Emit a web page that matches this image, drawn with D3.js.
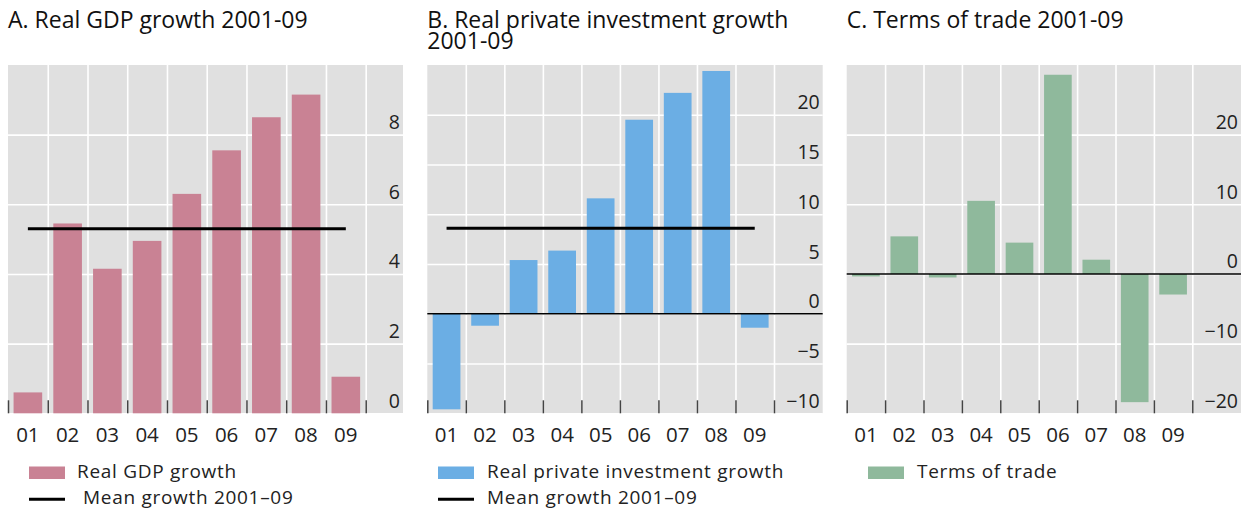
<!DOCTYPE html>
<html>
<head>
<meta charset="utf-8">
<script src="https://cdn.jsdelivr.net/npm/d3@7"></script>
<style>
  html, body { margin: 0; padding: 0; background: #ffffff; }
  #wrap { position: relative; width: 1250px; height: 510px; }
  svg { display: block; font-family: "Open Sans", "Noto Sans", sans-serif; }
  .title {
    position: absolute; margin: 0; white-space: nowrap;
    font-family: "Open Sans", "Noto Sans", sans-serif;
    font-size: 23px; line-height: 21px; color: #111;
  }
</style>
</head>
<body>
<div id="wrap">
<svg id="chart" width="1250" height="510"></svg>
</div>
<script>
// Years 2001–09, shown as two-digit labels
const years = ["01", "02", "03", "04", "05", "06", "07", "08", "09"];

// Panel A: real GDP growth, per cent
const gdpGrowth = [0.6, 5.45, 4.15, 4.95, 6.3, 7.55, 8.5, 9.15, 1.05];
const gdpMean = 5.3;
const gdpTicks = [0, 2, 4, 6, 8];

// Panel B: real private investment growth, per cent
const investGrowth = [-9.6, -1.2, 5.4, 6.35, 11.6, 19.5, 22.2, 24.4, -1.4];
const investMean = 8.6;
const investTicks = [-10, -5, 0, 5, 10, 15, 20];

// Panel C: terms of trade, per cent change
const termsOfTrade = [-0.35, 5.4, -0.5, 10.5, 4.5, 28.6, 2.05, -18.4, -2.95];
const totTicks = [-20, -10, 0, 10, 20];

const svg = d3.select("#chart");
const wrap = d3.select("#wrap");

const panels = [
  {
    title: ["A. Real GDP growth 2001-09"],
    values: gdpGrowth, mean: gdpMean, domain: [0, 10], ticks: gdpTicks,
    color: "#c98294", x0: 8, x1: 403, xEnd: 365.7, zeroLine: false,
    legend: { x: 29, textX: 77, lineTextX: 83, label: "Real GDP growth", meanLabel: "Mean growth 2001–09" }
  },
  {
    title: ["B. Real private investment growth", "2001-09"],
    values: investGrowth, mean: investMean, domain: [-10, 25], ticks: investTicks,
    color: "#6baee4", x0: 427.3, x1: 822.7, xEnd: 774, zeroLine: true,
    legend: { x: 438, textX: 487, lineTextX: 487, label: "Real private investment growth", meanLabel: "Mean growth 2001–09" }
  },
  {
    title: ["C. Terms of trade 2001-09"],
    values: termsOfTrade, mean: null, domain: [-20, 30], ticks: totTicks,
    color: "#8fb99c", x0: 846.7, x1: 1241, xEnd: 1192.3, zeroLine: true,
    legend: { x: 868, textX: 917, label: "Terms of trade" }
  }
];

const yTop = 65, yBottom = 413.3;

panels.forEach(p => {
  const g = svg.append("g");

  // Title block (wraps onto a second line with tight leading)
  const t = wrap.append("div").attr("class", "title")
    .style("left", p.x0 + "px").style("top", "9px");
  p.title.forEach((line, i) => {
    if (i > 0) t.append("br");
    t.append("span").text(line);
  });

  const y = d3.scaleLinear().domain(p.domain).range([yBottom, yTop]);
  const cell = d3.scaleBand().domain(years).range([p.x0, p.xEnd]).padding(0);
  const bar = d3.scaleBand().domain(years).range([p.x0, p.xEnd])
    .paddingInner(0.28).paddingOuter(0.14);
  const boundary = d3.scaleLinear().domain([0, years.length]).range([p.x0, p.xEnd]);

  // Plot background
  g.append("rect")
    .attr("x", p.x0).attr("y", yTop)
    .attr("width", p.x1 - p.x0).attr("height", yBottom - yTop)
    .attr("fill", "#e0e0e0");

  // Horizontal gridlines
  const hGrid = g.append("g")
    .attr("transform", `translate(${p.x0},0)`)
    .call(d3.axisRight(y).tickValues(p.ticks).tickSize(p.x1 - p.x0).tickFormat(""));
  hGrid.select(".domain").remove();
  hGrid.selectAll("line").attr("stroke", "#ffffff").attr("stroke-width", 1.6);

  // Vertical gridlines between years
  const vGrid = g.append("g")
    .attr("transform", `translate(0,${yBottom})`)
    .call(d3.axisBottom(boundary).tickValues(d3.range(1, years.length + 1))
      .tickSize(-(yBottom - yTop)).tickFormat(""));
  vGrid.select(".domain").remove();
  vGrid.selectAll("line").attr("stroke", "#ffffff").attr("stroke-width", 1.6);

  // Bars
  g.append("g").selectAll("rect")
    .data(p.values)
    .join("rect")
    .attr("x", (d, i) => bar(years[i]))
    .attr("width", bar.bandwidth())
    .attr("y", d => y(Math.max(0, d)))
    .attr("height", d => Math.abs(y(d) - y(0)))
    .attr("fill", p.color);

  // Zero line
  if (p.zeroLine) {
    g.append("line")
      .attr("x1", p.x0).attr("x2", p.x1)
      .attr("y1", y(0)).attr("y2", y(0))
      .attr("stroke", "#000").attr("stroke-width", 1.5);
  }

  // Mean line spanning first to last year
  if (p.mean !== null) {
    g.append("line")
      .attr("x1", cell(years[0]) + cell.bandwidth() / 2)
      .attr("x2", cell(years[years.length - 1]) + cell.bandwidth() / 2)
      .attr("y1", y(p.mean)).attr("y2", y(p.mean))
      .attr("stroke", "#000").attr("stroke-width", 3);
  }

  // Tick marks at year boundaries along the bottom
  const tickAxis = g.append("g")
    .attr("transform", `translate(0,${yBottom})`)
    .call(d3.axisBottom(boundary).tickValues(d3.range(0, years.length + 1))
      .tickSize(-13).tickFormat(""));
  tickAxis.select(".domain").remove();
  tickAxis.selectAll("line").attr("stroke", "#444").attr("stroke-width", 1.5);

  // Year labels
  const xAxis = g.append("g")
    .attr("transform", `translate(0,${yBottom})`)
    .call(d3.axisBottom(cell).tickSize(0).tickPadding(14));
  xAxis.select(".domain").remove();
  xAxis.selectAll("text")
    .attr("font-size", 20.5).attr("font-family", "Open Sans, sans-serif").attr("fill", "#222");

  // Value labels sitting just above each gridline, on the right
  const yAxis = g.append("g")
    .attr("transform", `translate(${p.x1 - 3},0)`)
    .call(d3.axisLeft(y).tickValues(p.ticks).tickSize(0).tickPadding(0));
  yAxis.select(".domain").remove();
  yAxis.selectAll("text")
    .attr("dy", -6)
    .attr("font-size", 19.5).attr("font-family", "Open Sans, sans-serif").attr("fill", "#222");

  // Legend
  const lg = g.append("g")
    .attr("font-size", 19).attr("letter-spacing", "0.7px").attr("fill", "#222");
  lg.append("rect")
    .attr("x", p.legend.x).attr("y", 466.5)
    .attr("width", 36).attr("height", 12.5)
    .attr("fill", p.color);
  lg.append("text")
    .attr("x", p.legend.textX).attr("y", 477.8)
    .text(p.legend.label);
  if (p.legend.meanLabel) {
    lg.append("line")
      .attr("x1", p.legend.x).attr("x2", p.legend.x + 36)
      .attr("y1", 499.3).attr("y2", 499.3)
      .attr("stroke", "#000").attr("stroke-width", 3);
    lg.append("text")
      .attr("x", p.legend.lineTextX).attr("y", 504)
      .text(p.legend.meanLabel);
  }
});
</script>
</body>
</html>
